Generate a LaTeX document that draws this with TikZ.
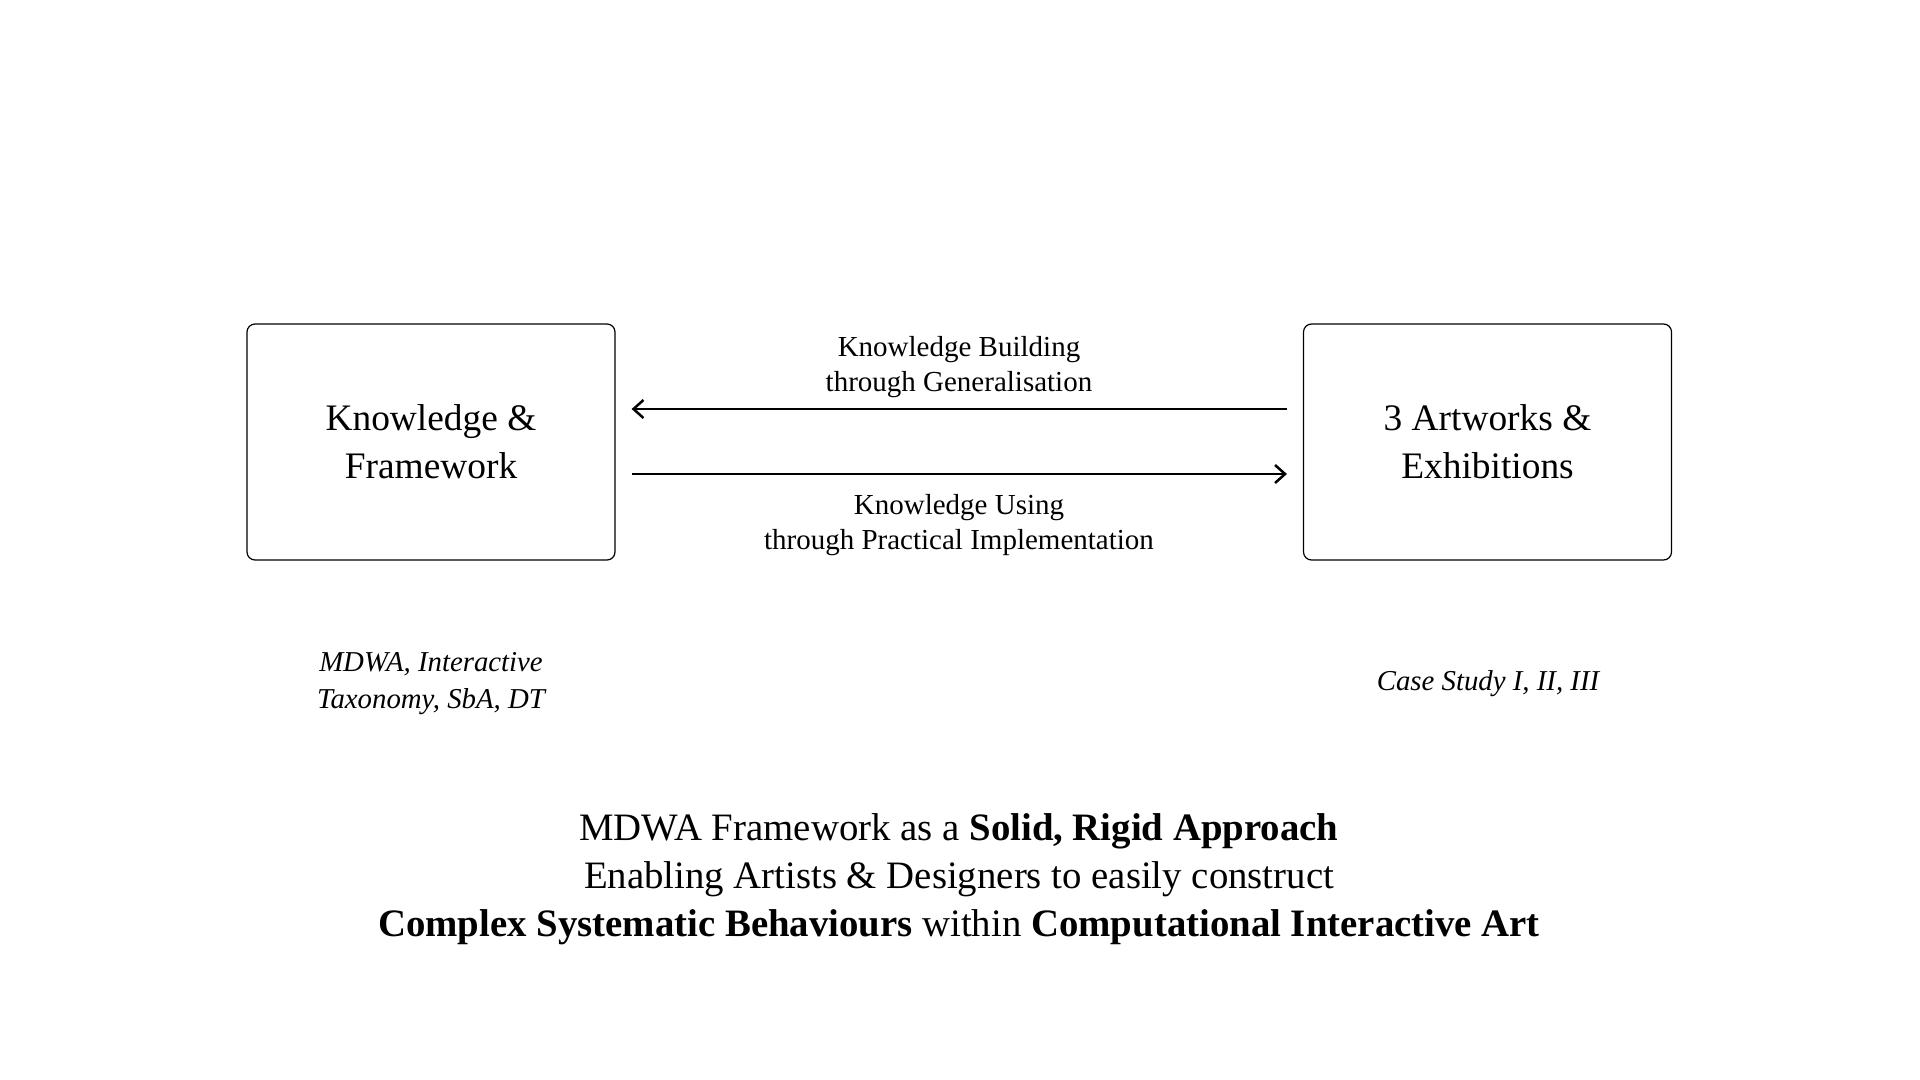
\documentclass[tikz,border=0pt]{standalone}
\usepackage{fontspec}
\setmainfont{Liberation Serif}
\usetikzlibrary{arrows.meta,positioning}

\begin{document}
\begin{tikzpicture}[
      x=0.5pt,y=-0.5pt,
      stage/.style={draw=black,line width=0.6pt,rounded corners=4pt,
                    minimum width=184pt,minimum height=118pt,align=center,
                    font=\fontsize{18.7}{24}\selectfont},
      flowlabel/.style={align=center,font=\fontsize{14.5}{17.5}\selectfont},
      note/.style={align=center,font=\fontsize{14.4}{18.5}\selectfont\itshape},
      claim/.style={align=center,font=\fontsize{19.4}{24}\selectfont},
      link/.style={-{Straight Barb[length=5pt,width=9pt]},line width=1.25pt,
                   shorten <=8pt,shorten >=8pt}
    ]
    \useasboundingbox (0,0) rectangle (1920,1080);

    \node[stage] (theory) at (431,442) {Knowledge \&\\Framework};
    \node[stage] (practice) at (1487.5,442) {3 Artworks \&\\Exhibitions};

    \draw[link] ([yshift=16.5pt]practice.west) -- ([yshift=16.5pt]theory.east);
    \draw[link] ([yshift=-16pt]theory.east) -- ([yshift=-16pt]practice.west);

    \node[flowlabel] (buildlbl) at (959,367.5) {Knowledge Building\\through Generalisation};
    \node[flowlabel] (uselbl) at (959,525.5) {Knowledge Using\\through Practical Implementation};

    \node[note] (theorynote) at (431,684) {MDWA, Interactive\\Taxonomy, SbA, DT};
    \node[note] (practicenote) at (1488,684) {Case Study I, II, III};

    \node[claim] (summary) at (959,879) {MDWA Framework as a \textbf{Solid, Rigid Approach}\\
      Enabling Artists \& Designers to easily construct\\
      \textbf{Complex Systematic Behaviours} within \textbf{Computational Interactive Art}};
  \end{tikzpicture}
\end{document}
